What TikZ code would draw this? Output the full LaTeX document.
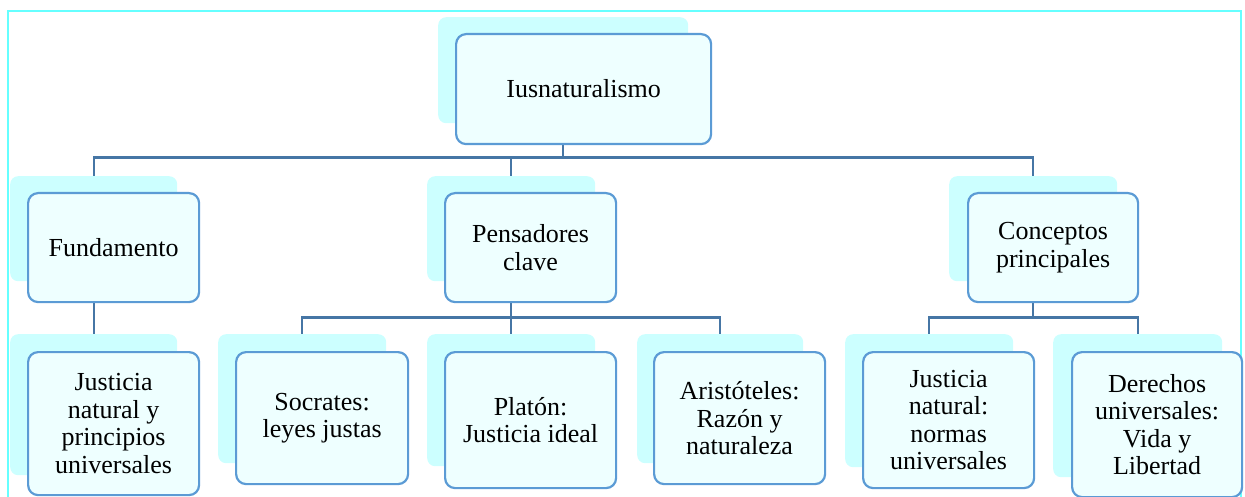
\documentclass[tikz,border=0pt]{standalone}
\usepackage{fontspec}
\setmainfont{Liberation Serif}
\definecolor{framec}{RGB}{102,255,255}
\definecolor{shadowc}{RGB}{204,255,255}
\definecolor{boxfill}{RGB}{238,255,255}
\definecolor{boxline}{RGB}{91,155,213}
\definecolor{connc}{RGB}{70,118,165}
\tikzset{
  shadowbox/.style={fill=shadowc, rounded corners=8pt, anchor=north west, inner sep=0pt},
  frontbox/.style={fill=boxfill, draw=boxline, line width=2.2pt, rounded corners=10pt,
    anchor=north west, inner sep=2pt, align=center,
    font=\fontsize{26}{27.5}\selectfont},
  conn/.style={draw=connc, line width=2.4pt},
}
\begin{document}
\begin{tikzpicture}[x=1pt,y=-1pt]
\useasboundingbox (0,0) rectangle (1245,497);
\draw[framec, line width=2pt] (7.5,11) rectangle (1240.5,520);
% shadows (named shapes)
\node[shadowbox, minimum width=250pt, minimum height=106pt] (root) at (438,17) {};
\node[shadowbox, minimum width=167pt, minimum height=105pt] (fund) at (10,176) {};
\node[shadowbox, minimum width=168pt, minimum height=105pt] (pens) at (427,176) {};
\node[shadowbox, minimum width=168pt, minimum height=105pt] (conc) at (949,176) {};
\node[shadowbox, minimum width=167pt, minimum height=141pt] (jus1) at (10,334) {};
\node[shadowbox, minimum width=168pt, minimum height=129pt] (soc) at (218,334) {};
\node[shadowbox, minimum width=168pt, minimum height=132pt] (plat) at (427,334) {};
\node[shadowbox, minimum width=166pt, minimum height=129pt] (arist) at (637,334) {};
\node[shadowbox, minimum width=168pt, minimum height=133pt] (jus2) at (845,334) {};
\node[shadowbox, minimum width=169pt, minimum height=143pt] (der) at (1053,334) {};
% connectors
\draw[conn] (root.south) -- ++(0,34) coordinate (b0);
\draw[conn] (b0) -| (fund.north);
\draw[conn] (b0) -| (pens.north);
\draw[conn] (b0) -| (conc.north);
\draw[conn] (fund.south) -- (jus1.north);
\draw[conn] (pens.south) -- ++(0,36) coordinate (b1);
\draw[conn] (b1) -| (soc.north);
\draw[conn] (b1) -- (plat.north);
\draw[conn] (b1) -| (arist.north);
\draw[conn] (conc.south) -- ++(0,36) coordinate (b2);
\draw[conn] (b2) -| (jus2.north);
\draw[conn] (b2) -| (der.north);
% front boxes
\node[frontbox, minimum width=255pt, minimum height=110pt] (rootf) at (455,33) {Iusnaturalismo};
\node[frontbox, minimum width=171pt, minimum height=109pt] (fundf) at (27,192) {Fundamento};
\node[frontbox, minimum width=171pt, minimum height=109pt] (pensf) at (444,192) {Pensadores\\clave};
\node[frontbox, minimum width=170pt, minimum height=109pt] (concf) at (967,192) {Conceptos\\principales};
\node[frontbox, minimum width=171pt, minimum height=143pt] (jus1f) at (27,351) {Justicia\\natural y\\principios\\universales};
\node[frontbox, minimum width=172pt, minimum height=132pt] (socf) at (235,351) {Socrates:\\leyes justas};
\node[frontbox, minimum width=171pt, minimum height=136pt] (platf) at (444,351) {Platón:\\Justicia ideal};
\node[frontbox, minimum width=171pt, minimum height=132pt] (aristf) at (653,351) {Aristóteles:\\Razón y\\naturaleza};
\node[frontbox, minimum width=171pt, minimum height=136pt] (jus2f) at (862,351) {Justicia\\natural:\\normas\\universales};
\node[frontbox, minimum width=170pt, minimum height=145pt] (derf) at (1071,351) {Derechos\\universales:\\Vida y\\Libertad};
\end{tikzpicture}
\end{document}
